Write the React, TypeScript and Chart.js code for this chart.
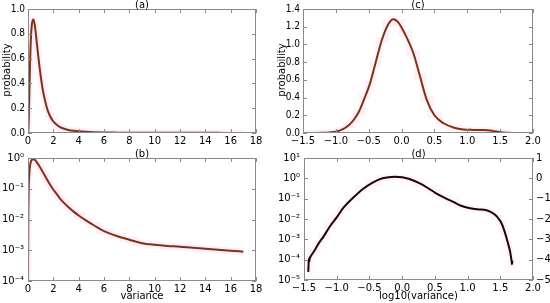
import React, { useEffect, useRef } from "react";
import { Chart, registerables } from "chart.js";

Chart.register(...registerables);

// ---- data: variance distribution (panels a, b) ----
const VAR_X = [0, 0.01, 0.02, 0.03, 0.05, 0.07, 0.1, 0.15, 0.2, 0.25, 0.3, 0.36, 0.42, 0.5, 0.6, 0.7, 0.8, 0.9, 1.0, 1.1, 1.2, 1.35, 1.5, 1.7, 1.95, 2.2, 2.5, 2.8, 3.2, 3.6, 4.0, 4.6, 5.2, 6.0, 7.0, 8.0, 9.0, 10.0, 11.0, 12.0, 13.0, 14.0, 15.0, 16.0, 17.0];
const VAR_P = [1e-4, 0.0008, 0.006, 0.025, 0.09, 0.17, 0.3, 0.52, 0.69, 0.8, 0.87, 0.905, 0.915, 0.89, 0.82, 0.72, 0.63, 0.54, 0.46, 0.39, 0.33, 0.26, 0.2, 0.145, 0.1, 0.073, 0.05, 0.036, 0.025, 0.018, 0.0135, 0.0092, 0.0065, 0.0042, 0.0029, 0.0022, 0.0017, 0.0015, 0.00138, 0.0013, 0.0012, 0.00112, 0.00104, 0.00097, 0.0009];

// ---- data: log10(variance) distribution, linear (panel c) ----
const LOGV_X_C = [-1.45, -1.3, -1.2, -1.1, -1.0, -0.9, -0.8, -0.73, -0.65, -0.55, -0.48, -0.4, -0.3, -0.2, -0.125, -0.05, 0.05, 0.18, 0.28, 0.38, 0.5, 0.64, 0.8, 0.94, 1.1, 1.25, 1.35, 1.45, 1.55, 1.68];
const LOGV_P_C = [0, 0.001, 0.003, 0.007, 0.015, 0.04, 0.09, 0.147, 0.24, 0.42, 0.56, 0.78, 1.05, 1.23, 1.285, 1.25, 1.12, 0.9, 0.64, 0.38, 0.2, 0.11, 0.06, 0.04, 0.035, 0.033, 0.028, 0.016, 0.006, 0.001];

// ---- data: log10(variance) distribution, log scale (panel d) ----
const LOGV_X_D = [-1.435, -1.43, -1.425, -1.42, -1.41, -1.39, -1.36, -1.33, -1.28, -1.2, -1.1, -1.0, -0.9, -0.75, -0.6, -0.45, -0.3, -0.11, 0.0, 0.1, 0.27, 0.4, 0.5, 0.65, 0.78, 0.9, 1.04, 1.15, 1.29, 1.38, 1.45, 1.52, 1.57, 1.62, 1.65, 1.67, 1.68, 1.685];
const LOGV_P_D = [2.5e-5, 6e-5, 1.1e-4, 8e-5, 1.2e-4, 1.6e-4, 2.2e-4, 3.2e-4, 6e-4, 1.4e-3, 4.5e-3, 0.012, 0.035, 0.11, 0.3, 0.62, 1.0, 1.2, 1.13, 0.95, 0.56, 0.32, 0.2, 0.11, 0.07, 0.045, 0.034, 0.03, 0.027, 0.02, 0.013, 0.006, 0.0022, 6e-4, 2.5e-4, 1e-4, 6e-5, 9e-5];

// ---- tick values ----
const LOG_TICKS_B = [1e-4, 1e-3, 1e-2, 1e-1, 1];
const LOG_TICKS_D = [1e-5, 1e-4, 1e-3, 1e-2, 1e-1, 1, 10];
const RIGHT_TICKS_D = [-5, -4, -3, -2, -1, 0, 1];

const FONT = '"DejaVu Sans", sans-serif';
const YFONT = '"DejaVu Sans Condensed", "Liberation Sans Narrow", "DejaVu Sans", sans-serif';
const SUP: Record<string, string> = { "-": "⁻", "0": "⁰", "1": "¹", "2": "²", "3": "³", "4": "⁴", "5": "⁵", "6": "⁶", "7": "⁷", "8": "⁸", "9": "⁹" };
const pow10Label = (v: number) => "10" + String(Math.round(Math.log10(v))).split("").map((c) => SUP[c] || c).join("");
const minus = (s: string) => s.replace("-", "\u2212");

type Spec = {
  key: string;
  xs: number[];
  ys: number[];
  area: { l: number; t: number; r: number; b: number };
  xMin: number; xMax: number; xStep: number; xFmt: (v: number) => string;
  yLog: boolean; yMin: number; yMax: number; yStep?: number; yTicks?: number[]; yFmt: (v: number) => string;
  right?: number[];
  title: string; xLabel?: string; yLabel?: string;
  lineColor: string;
  pink: string;
};

const YW = 28, XH = 14, RW = 17;

const SPECS: Spec[] = [
  {
    key: "a", xs: VAR_X, ys: VAR_P, area: { l: 28, t: 8, r: 256, b: 133 },
    xMin: 0, xMax: 18, xStep: 2, xFmt: (v) => String(Math.round(v)),
    yLog: false, yMin: 0, yMax: 1, yStep: 0.2, yFmt: (v) => v.toFixed(1),
    title: "(a)", yLabel: "probability", lineColor: "#7f3314", pink: "rgba(255,140,215,0.16)",
  },
  {
    key: "b", xs: VAR_X, ys: VAR_P, area: { l: 28, t: 158, r: 256, b: 281 },
    xMin: 0, xMax: 18, xStep: 2, xFmt: (v) => String(Math.round(v)),
    yLog: true, yMin: 1e-4, yMax: 1, yTicks: LOG_TICKS_B, yFmt: pow10Label,
    title: "(b)", xLabel: "variance", lineColor: "#7f3314", pink: "rgba(255,140,215,0.16)",
  },
  {
    key: "c", xs: LOGV_X_C, ys: LOGV_P_C, area: { l: 303, t: 9, r: 533, b: 133 },
    xMin: -1.5, xMax: 2.0, xStep: 0.5, xFmt: (v) => minus(v.toFixed(1)),
    yLog: false, yMin: 0, yMax: 1.4, yStep: 0.2, yFmt: (v) => v.toFixed(1),
    title: "(c)", yLabel: "probability", lineColor: "#7f3314", pink: "rgba(255,140,215,0.14)",
  },
  {
    key: "d", xs: LOGV_X_D, ys: LOGV_P_D, area: { l: 304, t: 158, r: 533, b: 280 },
    xMin: -1.5, xMax: 2.0, xStep: 0.5, xFmt: (v) => minus(v.toFixed(1)),
    yLog: true, yMin: 1e-5, yMax: 10, yTicks: LOG_TICKS_D, yFmt: pow10Label,
    right: RIGHT_TICKS_D,
    title: "(d)", xLabel: "log10(variance)", lineColor: "#1c0600", pink: "rgba(255,140,215,0.1)",
  },
];

function makePlugin(spec: Spec) {
  return {
    id: "frame_" + spec.key,
    afterDraw(chart: any) {
      const { ctx, chartArea: a } = chart;
      const xs = chart.scales.x, ys = chart.scales.y;
      ctx.save();
      ctx.strokeStyle = "#8a8a8a";
      ctx.lineWidth = 1;
      ctx.strokeRect(a.left + 0.5, a.top + 0.5, a.right - a.left - 1, a.bottom - a.top - 1);
      ctx.beginPath();
      for (const t of xs.ticks) {
        const px = Math.round(xs.getPixelForValue(t.value)) + 0.5;
        ctx.moveTo(px, a.bottom); ctx.lineTo(px, a.bottom - 4);
        ctx.moveTo(px, a.top); ctx.lineTo(px, a.top + 4);
      }
      for (const t of ys.ticks) {
        const py = Math.round(ys.getPixelForValue(t.value)) + 0.5;
        ctx.moveTo(a.left, py); ctx.lineTo(a.left + 4, py);
        ctx.moveTo(a.right, py); ctx.lineTo(a.right - 4, py);
      }
      ctx.stroke();
      ctx.fillStyle = "#000";
      ctx.font = "10px " + FONT;
      ctx.textAlign = "center";
      ctx.textBaseline = "bottom";
      ctx.fillText(spec.title, (a.left + a.right) / 2, a.top + 1);
      if (spec.xLabel) {
        ctx.textBaseline = "middle";
        ctx.fillText(spec.xLabel, (a.left + a.right) / 2, 296);
      }
      if (spec.yLabel) {
        ctx.translate(a.left - 21, (a.top + a.bottom) / 2 - 1);
        ctx.rotate(-Math.PI / 2);
        ctx.textBaseline = "middle";
        ctx.fillText(spec.yLabel, 0, 0);
      }
      ctx.restore();
    },
  };
}

function Panel({ spec }: { spec: Spec }) {
  const ref = useRef<HTMLCanvasElement | null>(null);
  useEffect(() => {
    if (!ref.current) return;
    const { l, t, r, b } = spec.area;
    const rightW = spec.right ? RW : 0;
    const tickFont = { family: FONT, size: 10 };
    const yTickFont = { family: YFONT, size: 10 };
    const pts = spec.xs.map((x, i) => ({ x, y: spec.ys[i] }));
    const scales: any = {
      x: {
        type: "linear", min: spec.xMin, max: spec.xMax,
        grid: { display: false, drawTicks: false }, border: { display: false },
        ticks: { stepSize: spec.xStep, autoSkip: false, maxRotation: 0, padding: 2, color: "#000", font: tickFont, callback: (v: any) => spec.xFmt(Number(v)) },
        afterFit: (s: any) => { s.height = XH; },
      },
      y: {
        type: spec.yLog ? "logarithmic" : "linear", min: spec.yMin, max: spec.yMax,
        grid: { display: false, drawTicks: false }, border: { display: false },
        ticks: { stepSize: spec.yStep, autoSkip: false, padding: spec.yLog ? 4 : 3, color: "#000", font: spec.yLog ? tickFont : yTickFont, callback: (v: any) => spec.yFmt(Number(v)) },
        afterFit: (s: any) => { s.width = YW; },
        afterBuildTicks: spec.yTicks ? (s: any) => { s.ticks = spec.yTicks!.map((v) => ({ value: v })); } : undefined,
      },
    };
    if (spec.right) {
      const rt = spec.right;
      scales.y2 = {
        type: "linear", position: "right", min: rt[0], max: rt[rt.length - 1],
        grid: { display: false, drawTicks: false }, border: { display: false },
        ticks: { stepSize: 1, autoSkip: false, padding: 3, color: "#000", font: tickFont, callback: (v: any) => minus(String(v)) },
        afterFit: (s: any) => { s.width = RW; },
        afterBuildTicks: (s: any) => { s.ticks = rt.map((v) => ({ value: v })); },
      };
    }
    const chart = new Chart(ref.current, {
      type: "line",
      data: {
        datasets: [
          {
            data: pts, borderWidth: 6, borderColor: spec.pink,
            pointRadius: 0, stepped: "middle", fill: false, order: 2,
          } as any,
          {
            data: pts, borderWidth: 2, borderColor: spec.lineColor, pointRadius: 0,
            cubicInterpolationMode: "monotone", fill: false, order: 1,
          } as any,
        ],
      },
      options: {
        responsive: false,
        animation: false,
        events: [],
        layout: { padding: { left: l - YW, top: t, right: 550 - r - rightW, bottom: 303 - b - XH } },
        plugins: { legend: { display: false }, tooltip: { enabled: false }, title: { display: false } },
        scales,
      },
      plugins: [makePlugin(spec)],
    });
    return () => chart.destroy();
  }, [spec]);
  return (
    <canvas
      ref={ref}
      width={550}
      height={303}
      style={{ position: "absolute", left: 0, top: 0, width: 550, height: 303 }}
    />
  );
}

export default function App() {
  return (
    <div style={{ position: "fixed", left: 0, top: 0, width: 550, height: 303, background: "#fff", overflow: "hidden" }}>
      {SPECS.map((s) => (
        <Panel key={s.key} spec={s} />
      ))}
    </div>
  );
}
